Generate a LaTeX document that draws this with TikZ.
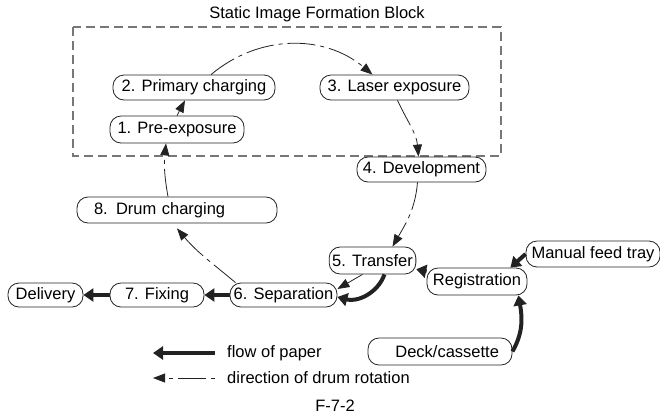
\documentclass[tikz,border=0pt]{standalone}
\usepackage{fontspec}
\setmainfont{Liberation Sans}
\usetikzlibrary{arrows.meta,positioning}
\definecolor{FrameGray}{HTML}{777777}
\definecolor{InkGray}{HTML}{222222}

\begin{document}
\begin{tikzpicture}[
  x=1pt, y=-1pt,
  font=\fontsize{16.5}{19}\selectfont,
  stage/.style={draw=InkGray, line width=0.8pt, rounded corners=11pt, inner xsep=3pt, inner ysep=2pt, minimum height=25pt},
  drumrot/.style={InkGray, line width=0.8pt, dash pattern=on 28pt off 5pt on 4pt off 5pt, -{Triangle[length=12pt,width=9pt]}},
  paperflow/.style={InkGray, line width=4pt, -{Triangle[length=10pt,width=13pt]}},
  legendtxt/.style={anchor=west, inner sep=0pt}
]
\useasboundingbox (0,0) rectangle (660,416);

% static image formation block
\node (blocktitle) at (317,14) {Static Image Formation Block};
\draw[FrameGray, line width=1.2pt, dash pattern=on 9pt off 5pt] (73,27) rectangle (501,156);

\node[stage, minimum width=134pt, minimum height=27pt] (pre) at (177,129.5) {1. Pre-exposure};
\node[stage, minimum width=162pt] (prim) at (194,87.5) {2. Primary charging};
\node[stage, minimum width=149pt] (laser) at (394.5,87.5) {3. Laser exposure};
\node[stage, minimum width=129pt] (devel) at (421.5,169.5) {4. Development};
\node[stage, minimum width=85pt, minimum height=27pt] (transfer) at (372.5,260.5) {5. Transfer};
\node[stage, minimum width=107pt, minimum height=24pt] (sep) at (283.5,295) {6. Separation};
\node[stage, minimum width=94pt, minimum height=24pt] (fix) at (157,295) {7. Fixing};
\node[stage, text width=166pt, align=left, inner xsep=17pt, minimum height=26pt] (drum) at (177,210) {8. Drum charging};
\node[stage, minimum width=75pt, minimum height=24pt] (deliv) at (45.5,295) {Delivery};
\node[stage, minimum width=100pt, minimum height=27pt] (reg) at (477,281.5) {Registration};
\node[stage, minimum width=134pt, minimum height=26pt] (manual) at (593,254) {Manual feed tray};
\node[stage, text width=118pt, align=right, inner xsep=13pt, minimum height=27pt] (deck) at (440,351.5) {Deck/cassette};

% drum rotation
\draw[drumrot] ([xshift=-9pt]drum.north) to[bend left=8] ([xshift=-11pt]pre.south);
\draw[drumrot] (pre.north) -- ([xshift=-9pt]prim.south);
\draw[drumrot] ([xshift=17pt]prim.north) to[out=40, in=140] ([xshift=-22pt]laser.north);
\draw[drumrot] ([xshift=3pt]laser.south) to[out=-65, in=95] ([xshift=-3pt]devel.north);
\draw[drumrot] ([xshift=-4pt]devel.south) to[out=-95, in=60] ([xshift=20pt]transfer.north);
\draw[drumrot] ([xshift=-10pt]transfer.south) -- ([yshift=6pt]sep.east);
\draw[drumrot] ([xshift=-48pt]sep.north) to[out=140, in=-50] ([yshift=-5pt]drum.south);

% flow of paper
\draw[paperflow] (manual.west) -- ([xshift=-17pt]reg.north east);
\draw[paperflow] (deck.east) to[out=60, in=-80] ([xshift=-9pt]reg.south east);
\draw[paperflow] (reg) -- (transfer);
\draw[paperflow] ([xshift=12pt]transfer.south) to[out=-110, in=-15] ([yshift=-2pt]sep.east);
\draw[paperflow] (sep.west) -- (fix.east);
\draw[paperflow] (fix.west) -- (deliv.east);

% legend
\coordinate (paperhead) at (153,353);
\node[legendtxt, right=74pt of paperhead] (paperlbl) {flow of paper};
\draw[paperflow] ([xshift=-12pt]paperlbl.west) -- (paperhead);
\coordinate (drumhead) at (153,378);
\node[legendtxt, right=74pt of drumhead] (drumlbl) {direction of drum rotation};
\draw[drumrot, dash phase=33pt] ([xshift=-12pt]drumlbl.west) -- (drumhead);

\node (figno) at (335,406) {F-7-2};
\end{tikzpicture}
\end{document}
